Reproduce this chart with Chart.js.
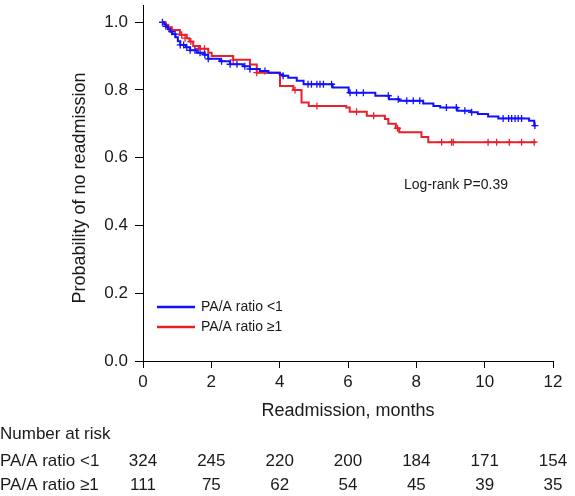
<!DOCTYPE html>
<html>
<head>
<meta charset="utf-8">
<script src="https://cdn.jsdelivr.net/npm/chart.js@4/dist/chart.umd.min.js"></script>
<style>
html,body{margin:0;padding:0;background:#fff;}
#wrap{position:relative;width:575px;height:496px;}
</style>
</head>
<body>
<div id="wrap"><canvas id="c" width="575" height="496"></canvas></div>
<script>
// ---- data ----
const timeTicks = [0, 2, 4, 6, 8, 10, 12];
const probTicks = [0, 0.2, 0.4, 0.6, 0.8, 1.0];
const groupLabels = ['PA/A ratio <1', 'PA/A ratio \u22651'];
const xTitle = 'Readmission, months';
const yTitle = 'Probability of no readmission';
const pValueText = 'Log-rank P=0.39';
const riskTitle = 'Number at risk';

const lowStepT = [0.57,0.62,0.67,0.73,0.80,0.86,0.95,1.02,1.09,1.25,1.38,1.57,1.80,1.91,2.25,2.55,2.93,3.13,3.42,3.67,4.00,4.10,4.25,4.50,4.70,5.55,6.02,6.80,7.20,7.50,8.20,8.50,8.70,9.20,9.60,9.80,10.10,10.40,11.30,11.45,11.50];
const lowStepS = [1.000,0.994,0.988,0.980,0.972,0.965,0.956,0.944,0.933,0.926,0.917,0.910,0.904,0.892,0.885,0.876,0.870,0.862,0.856,0.851,0.846,0.842,0.836,0.827,0.817,0.807,0.792,0.783,0.773,0.768,0.760,0.753,0.748,0.739,0.734,0.729,0.722,0.716,0.709,0.695,0.695];
const lowCensT = [0.57,0.67,0.84,0.94,1.09,1.19,1.28,1.38,1.52,1.67,1.81,1.91,2.30,2.55,2.75,2.98,3.13,3.57,4.10,4.83,4.93,5.09,5.18,5.28,5.52,6.06,6.25,6.45,7.18,7.47,7.72,7.91,8.10,8.88,9.17,9.42,9.62,10.54,10.70,10.79,10.89,10.98,11.08,11.47];
const lowCensS = [1.000,0.988,0.972,0.965,0.933,0.933,0.926,0.917,0.917,0.910,0.904,0.892,0.885,0.876,0.876,0.870,0.862,0.856,0.842,0.817,0.817,0.817,0.817,0.817,0.817,0.792,0.792,0.792,0.783,0.773,0.768,0.768,0.768,0.748,0.748,0.739,0.734,0.716,0.716,0.716,0.716,0.716,0.716,0.695];

const highStepT = [0.57,0.66,0.74,0.84,1.08,1.28,1.36,1.47,1.67,1.91,2.01,2.64,3.13,3.33,4.01,4.40,4.64,4.85,5.95,6.05,6.55,7.08,7.18,7.40,7.50,8.15,8.35,11.50];
const highStepS = [1.000,0.992,0.985,0.977,0.963,0.953,0.943,0.930,0.922,0.910,0.900,0.889,0.875,0.851,0.812,0.800,0.763,0.753,0.748,0.736,0.724,0.714,0.700,0.687,0.675,0.661,0.646,0.646];
const highCensT = [0.74,0.84,1.13,1.23,1.40,1.62,1.80,2.64,3.33,4.45,5.09,6.25,6.75,7.45,8.74,9.03,9.08,10.10,10.35,10.72,11.08,11.45];
const highCensS = [0.985,0.977,0.963,0.953,0.943,0.922,0.922,0.889,0.851,0.800,0.753,0.736,0.724,0.687,0.646,0.646,0.646,0.646,0.646,0.646,0.646,0.646];

const atRiskLow = [324, 245, 220, 200, 184, 171, 154];
const atRiskHigh = [111, 75, 62, 54, 45, 39, 35];

const colorLow = '#1010ff';
const colorHigh = '#e8202c';
const FONT = '"Liberation Sans", Arial, Helvetica, sans-serif';
const TEXT = '#1a1a1a';

const pts = (t, s) => t.map((v, i) => ({x: v, y: s[i]}));

const textPlugin = {
  id: 'kmText',
  afterDraw(chart) {
    const ctx = chart.ctx;
    const xs = chart.scales.x;
    ctx.save();
    ctx.fillStyle = TEXT;
    // y title
    ctx.save();
    ctx.translate(80, 188);
    ctx.rotate(-Math.PI / 2);
    ctx.font = '18px ' + FONT;
    ctx.textAlign = 'center';
    ctx.textBaseline = 'middle';
    ctx.fillText(yTitle, 0, 0);
    ctx.restore();
    // x title
    ctx.font = '18px ' + FONT;
    ctx.textAlign = 'center';
    ctx.textBaseline = 'middle';
    ctx.fillText(xTitle, 348, 411);
    // risk table
    ctx.font = '17px ' + FONT;
    ctx.textAlign = 'left';
    ctx.fillText(riskTitle, 0, 434);
    ctx.fillText(groupLabels[0], 0, 461);
    ctx.fillText(groupLabels[1], 0, 485);
    ctx.textAlign = 'center';
    timeTicks.forEach((t, i) => {
      const px = xs.getPixelForValue(t);
      ctx.fillText(String(atRiskLow[i]), px, 461);
      ctx.fillText(String(atRiskHigh[i]), px, 485);
    });
    // log-rank
    ctx.font = '14px ' + FONT;
    ctx.textAlign = 'center';
    ctx.fillText(pValueText, 456, 185);
    // legend
    const leg = [[colorLow, groupLabels[0], 307], [colorHigh, groupLabels[1], 327]];
    leg.forEach(([c, l, y]) => {
      ctx.strokeStyle = c;
      ctx.lineWidth = 2.5;
      ctx.beginPath();
      ctx.moveTo(157, y);
      ctx.lineTo(195, y);
      ctx.stroke();
      ctx.fillStyle = TEXT;
      ctx.font = '14px ' + FONT;
      ctx.textAlign = 'left';
      ctx.fillText(l, 201, y);
    });
    ctx.restore();
  }
};

new Chart(document.getElementById('c'), {
  type: 'line',
  data: {
    datasets: [
      {label: groupLabels[0], data: pts(lowStepT, lowStepS), borderColor: colorLow, borderWidth: 2, stepped: 'before', pointRadius: 0, fill: false},
      {label: groupLabels[1], data: pts(highStepT, highStepS), borderColor: colorHigh, borderWidth: 2, stepped: 'before', pointRadius: 0, fill: false},
      {type: 'scatter', label: 'cens low', data: pts(lowCensT, lowCensS), showLine: false, pointStyle: 'cross', pointRadius: 3.5, borderColor: colorLow, borderWidth: 1.3, backgroundColor: colorLow},
      {type: 'scatter', label: 'cens high', data: pts(highCensT, highCensS), showLine: false, pointStyle: 'cross', pointRadius: 3.5, borderColor: colorHigh, borderWidth: 1.3, backgroundColor: colorHigh}
    ]
  },
  options: {
    responsive: false,
    animation: false,
    events: [],
    layout: {padding: {top: 1, right: 22, left: 0, bottom: 0}},
    plugins: {legend: {display: false}, tooltip: {enabled: false}},
    scales: {
      x: {
        type: 'linear', min: 0, max: 12,
        afterBuildTicks: s => { s.ticks = timeTicks.map(v => ({value: v})); },
        afterFit: s => { s.height = 135; },
        border: {display: true, color: '#000', width: 1},
        grid: {drawOnChartArea: false, drawTicks: true, tickLength: 7, color: '#000'},
        ticks: {font: {size: 17, family: FONT}, color: TEXT, padding: 4, maxRotation: 0}
      },
      y: {
        type: 'linear', min: 0, max: 1.05,
        afterBuildTicks: s => { s.ticks = probTicks.map(v => ({value: v})); },
        afterFit: s => { s.width = 143; s.paddingTop = 0; s.paddingBottom = 0; },
        border: {display: true, color: '#000', width: 1},
        grid: {drawOnChartArea: false, drawTicks: true, tickLength: 8, color: '#000'},
        ticks: {font: {size: 17, family: FONT}, color: TEXT, padding: 7, callback: v => v.toFixed(1)}
      }
    }
  },
  plugins: [textPlugin]
});
</script>
</body>
</html>
